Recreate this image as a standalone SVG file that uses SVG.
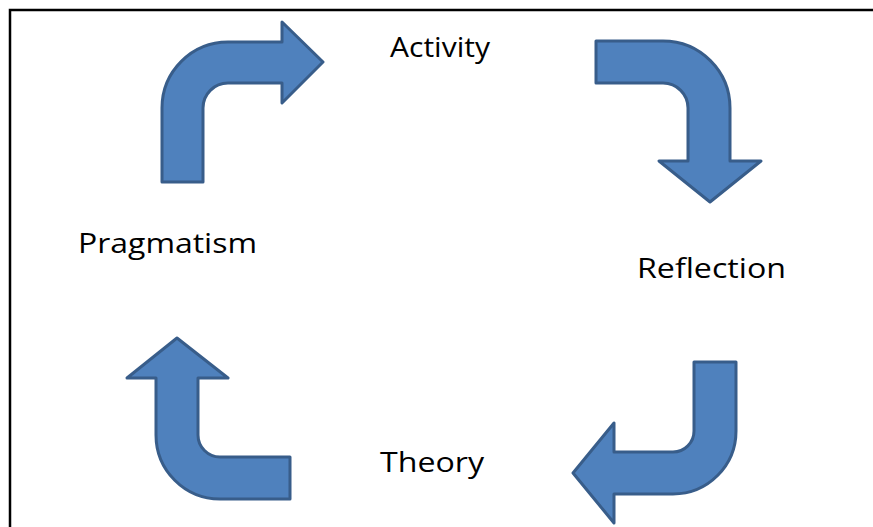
<svg xmlns="http://www.w3.org/2000/svg" width="873" height="527" viewBox="0 0 873 527">
<style>
.arrow{fill:#4F81BD;stroke:#385D8A;stroke-width:3;stroke-linejoin:round}
.lbl{font-family:"Open Sans","Liberation Sans",Arial,sans-serif;font-size:28px;fill:#000}
</style>
<rect width="873" height="527" fill="#fff"/>
<path d="M10,527 V10 H873" fill="none" stroke="#000" stroke-width="2.5"/>
<g id="connectors">
<path id="arrow-activity" class="arrow" d="M162,182 L162,108 A66,66 0 0 1 228,42 L282,42 L282,22 L323,62 L282,103 L282,83 L228,83 A25,25 0 0 0 203,108 L203,182 Z"/>
<path id="arrow-reflection" class="arrow" d="M596,41 L663,41 A67,67 0 0 1 730,108 L730,161 L761,161 L710,202 L659,161 L688,161 L688,108 A25,25 0 0 0 663,83 L596,83 Z"/>
<path id="arrow-theory" class="arrow" d="M694,362 L736,362 L736,431 A63,63 0 0 1 673,494 L614,494 L614,523 L573,473 L614,423 L614,452 L673,452 A21,21 0 0 0 694,431 Z"/>
<path id="arrow-pragmatism" class="arrow" d="M290,457 L290,499 L220,499 A64,64 0 0 1 156,435 L156,378 L127,378 L177,338 L228,378 L198,378 L198,435 A22,22 0 0 0 220,457 Z"/>
</g>
<g id="activity"><text class="lbl" x="390" y="57" textLength="100" lengthAdjust="spacingAndGlyphs">Activity</text></g>
<g id="pragmatism"><text class="lbl" x="78" y="253" textLength="179" lengthAdjust="spacingAndGlyphs">Pragmatism</text></g>
<g id="reflection"><text class="lbl" x="637" y="278" textLength="149" lengthAdjust="spacingAndGlyphs">Reflection</text></g>
<g id="theory"><text class="lbl" x="380" y="472" textLength="104" lengthAdjust="spacingAndGlyphs">Theory</text></g>
</svg>
